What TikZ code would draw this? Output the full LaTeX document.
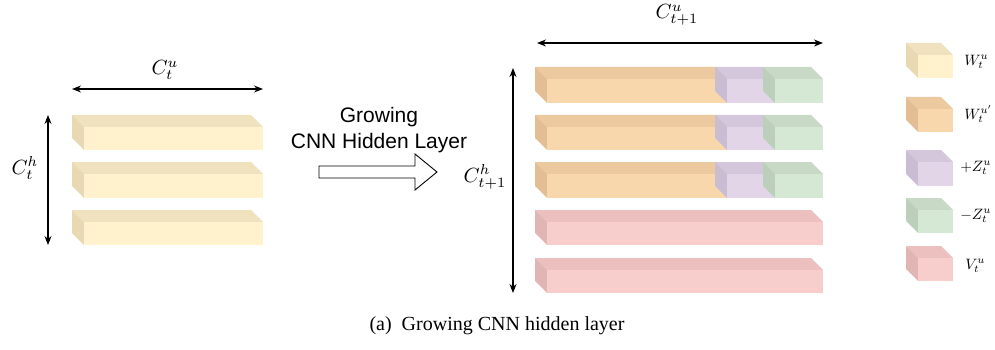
\documentclass[tikz,border=0pt]{standalone}
\usepackage{fontspec}
\newfontfamily\capfont{Liberation Serif}
\newfontfamily\labfont{Liberation Sans}
\usetikzlibrary{arrows.meta}
\definecolor{yF}{HTML}{FFF2CC}\definecolor{yT}{HTML}{F0E2BE}\definecolor{yS}{HTML}{E8D9B3}
\definecolor{oF}{HTML}{F9D7AC}\definecolor{oT}{HTML}{EDC9A0}\definecolor{oS}{HTML}{E3BE95}
\definecolor{pF}{HTML}{E1D5E7}\definecolor{pT}{HTML}{D4C7DB}\definecolor{pS}{HTML}{CABCD2}
\definecolor{gF}{HTML}{D5E8D4}\definecolor{gT}{HTML}{C8DAC6}\definecolor{gS}{HTML}{BCCFBA}
\definecolor{rF}{HTML}{F8CECC}\definecolor{rT}{HTML}{EBC0BE}\definecolor{rS}{HTML}{E0B5B4}
% cuboid: #1 name, #2 x1, #3 y1, #4 x2, #5 y2, #6 colour prefix
\newcommand\mycuboid[6]{%
  \fill[#6T] (#2,#3) -- ({#2-12},{#3-12}) -- ({#4-12},{#3-12}) -- (#4,#3) -- cycle;
  \fill[#6S] (#2,#3) -- ({#2-12},{#3-12}) -- ({#2-12},{#5-12}) -- (#2,#5) -- cycle;
  \node[fill=#6F, inner sep=0pt, minimum width={(#4-#2)*1pt}, minimum height={(#5-#3)*1pt}, anchor=north west] (#1) at (#2,#3) {};
}
\tikzset{
  dim/.style={{Stealth[length=9pt,width=7pt]}-{Stealth[length=9pt,width=7pt]}, line width=1.1pt},
  mathlab/.style={inner sep=0pt, scale=2.05},
  leglab/.style={inner sep=0pt, anchor=west, scale=1.5},
}
\begin{document}
\begin{tikzpicture}[x=1pt,y=-1pt]
\useasboundingbox (0,0) rectangle (995,350);
% left layer
\mycuboid{l1}{84}{127}{263}{150}{y}
\mycuboid{l2}{84}{174}{263}{198}{y}
\mycuboid{l3}{84}{222}{263}{245}{y}
\coordinate (lhA) at (72,89); \coordinate (lhB) at (263,89);
\draw[dim] (lhA) -- (lhB);
\node[mathlab] (lhlab) at (165,70) {$C_t^u$};
\coordinate (lvA) at (48,115); \coordinate (lvB) at (48,245);
\draw[dim] (lvA) -- (lvB);
\node[mathlab] (lvlab) at (25,168) {$C_t^h$};
% middle
\node[font=\labfont\fontsize{21}{26}\selectfont, align=center, inner sep=0pt] (grow) at (379,130) {Growing\\CNN Hidden Layer};
\draw[line width=0.9pt, fill=white] (319,166) -- (415,166) -- (415,154) -- (437,172) -- (415,190) -- (415,178) -- (319,178) -- cycle;
% right layer
\mycuboid{o1}{547}{79}{727}{103}{o}\mycuboid{p1}{727}{79}{775}{103}{p}\mycuboid{g1}{775}{79}{823}{103}{g}
\mycuboid{o2}{547}{127}{727}{150}{o}\mycuboid{p2}{727}{127}{775}{150}{p}\mycuboid{g2}{775}{127}{823}{150}{g}
\mycuboid{o3}{547}{174}{727}{198}{o}\mycuboid{p3}{727}{174}{775}{198}{p}\mycuboid{g3}{775}{174}{823}{198}{g}
\mycuboid{r4}{547}{222}{823}{245}{r}
\mycuboid{r5}{547}{270}{823}{293}{r}
\coordinate (rhA) at (537,43); \coordinate (rhB) at (823,43);
\draw[dim] (rhA) -- (rhB);
\node[mathlab] (rhlab) at (677,15) {$C_{t+1}^u$};
\coordinate (rvA) at (513,68); \coordinate (rvB) at (513,293);
\draw[dim] (rvA) -- (rvB);
\node[mathlab] (rvlab) at (485,177) {$C_{t+1}^h$};
% legend
\mycuboid{k1}{918}{55}{953}{78}{y}
\mycuboid{k2}{918}{109}{953}{132}{o}
\mycuboid{k3}{918}{162}{953}{186}{p}
\mycuboid{k4}{918}{210}{953}{233}{g}
\mycuboid{k5}{918}{258}{953}{281}{r}
\node[leglab] (t1) at (964,62) {$W_t^u$};
\node[leglab] (t2) at (964,114) {$W_t^{u'}$};
\node[leglab] (t3) at (960,168) {$+Z_t^u$};
\node[leglab] (t4) at (960,216) {$-Z_t^u$};
\node[leglab] (t5) at (965,266) {$V_t^u$};
% caption
\node[font=\capfont\fontsize{20}{24}\selectfont, inner sep=0pt] (cap) at (497,326) {(a)\ \ Growing CNN hidden layer};
\end{tikzpicture}
\end{document}
